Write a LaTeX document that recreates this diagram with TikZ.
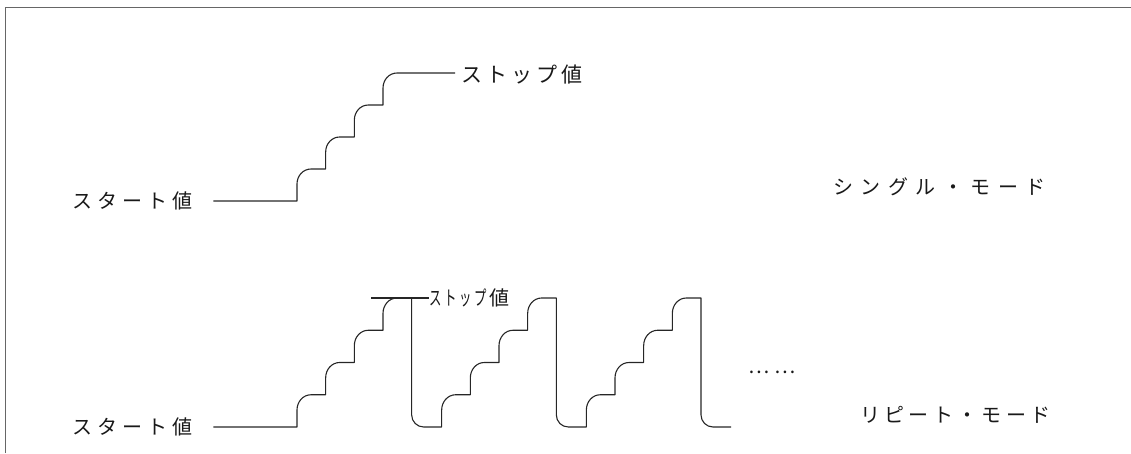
\documentclass[tikz,border=0pt]{standalone}
\usepackage{fontspec}
\usepackage{graphicx}
\newfontfamily\jp{Noto Sans CJK JP}
\newcommand\kk{\kern 5pt}
\newcommand\km{\kern 7.5pt}
\newcommand\kr{\kern 4.3pt}
\newcommand\nk[1]{\scalebox{0.62}[1]{#1}}
\begin{document}
\begin{tikzpicture}[x=1pt,y=1pt,
  wave/.style={line width=1.1pt, black!85, line join=round},
  lbl/.style={inner sep=0pt, anchor=west, text=black!90, font=\jp\fontsize{20}{20}\selectfont},
  frame/.style={line width=1pt, black!60}]
\useasboundingbox (0,0) rectangle (1131,453);
\draw[frame] (5,0) -- (5,445) -- (1131,445);

% texts
\node[lbl] (start1) at (72,252) {ス\kk タ\kk ー\kk ト\kk 値};
\node[lbl, font=\jp\fontsize{21}{21}\selectfont] (stop1) at (461,378) {ス\kern4ptト\kern4ptッ\kern4ptプ\kern4pt値};
\node[lbl] (single) at (833,266) {シ\km ン\km グ\km ル\km ・\km モ\km ー\km ド};
\node[lbl] (start2) at (72,26) {ス\kk タ\kk ー\kk ト\kk 値};
\node[lbl] (repeat) at (860,38) {リ\kr ピ\kr ー\kr ト\kr ・\kr モ\kr ー\kr ド};
\node[lbl] (stop2) at (429,155) {\nk{ス}\kern2.6pt\nk{ト}\kern2.6pt\nk{ッ}\kern2.6pt\nk{プ}\kern2.6pt値};
\node[lbl] (dots) at (748,81) {…\kern5pt…};

% single mode staircase
\draw[wave] (start1.east) ++(21,0) -- (297,252)
  \foreach \k in {0,...,3}{ -- ({297+28.67*\k},{269+32*\k}) to[out=90,in=180] ({311+28.67*\k},{284+32*\k}) -- ({325.67+28.67*\k},{284+32*\k}) }
  -- (455,380) coordinate (top1);

% repeat mode staircase
\draw[wave] (start2.east) ++(21,0) -- (297,26)
  \foreach \p in {0,1,2}{
    \foreach \k in {0,...,3}{ -- ({297+144.67*\p+28.67*\k},{43+32.25*\k}) to[out=90,in=180] ({311+144.67*\p+28.67*\k},{58.25+32.25*\k}) -- ({325.67+144.67*\p+28.67*\k},{58.25+32.25*\k}) }
    -- ({411.67+144.67*\p},38) to[out=-90,in=180] ({423.67+144.67*\p},26) -- ({441.67+144.67*\p},26)
  };

% stop level line (repeat)
\coordinate (sl) at (371,155);
\draw[wave] (sl) -- (stop2.west);
\end{tikzpicture}
\end{document}
